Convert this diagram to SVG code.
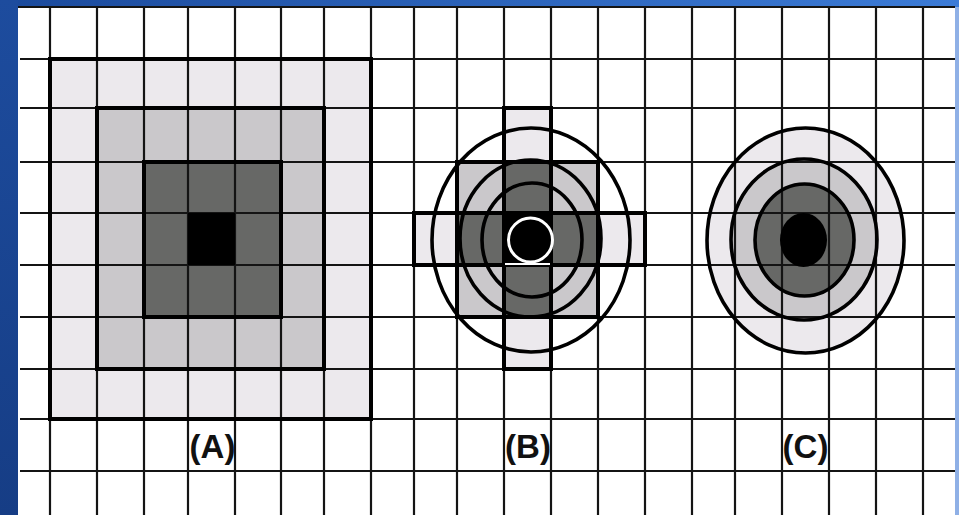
<svg xmlns="http://www.w3.org/2000/svg" width="959" height="515" viewBox="0 0 959 515">
<defs>
<linearGradient id="bg" x1="0" y1="0" x2="1" y2="0.3">
<stop offset="0" stop-color="#1b4a9c"/>
<stop offset="1" stop-color="#3f80dc"/>
</linearGradient>
<linearGradient id="left" x1="0" y1="0" x2="0" y2="1">
<stop offset="0" stop-color="#1d4c9e"/>
<stop offset="1" stop-color="#163d85"/>
</linearGradient>
<style>
.l1{fill:#ece9ed}
.l2{fill:#cac8cb}
.l3{fill:#676866}
.l4{fill:#000}
.grid line{stroke:#141414;stroke-width:2.2}
.thick{fill:none;stroke:#000;stroke-width:4}
.ring{fill:none;stroke:#000;stroke-width:3.6}
.lbl{font-family:"Liberation Sans",Arial,sans-serif;font-weight:bold;font-size:33px;fill:#111;text-anchor:middle}
</style>
</defs>
<g id="background">
<rect x="0" y="0" width="959" height="515" fill="url(#bg)"/>
<rect x="0" y="0" width="18" height="515" fill="url(#left)"/>
<rect x="18" y="7" width="937" height="508" fill="#fff"/>
<rect x="955" y="7" width="4" height="508" fill="#8fb0e6"/>
</g>
<g id="fills">
<rect class="l1" x="50" y="59" width="321" height="360"/>
<rect class="l2" x="97" y="108" width="227" height="261"/>
<rect class="l3" x="144" y="162" width="137" height="155"/>
<rect class="l4" x="188" y="213" width="47" height="52"/>
<rect class="l1" x="504" y="108" width="47" height="54"/>
<rect class="l1" x="504" y="317" width="47" height="52"/>
<rect class="l1" x="414" y="213" width="43" height="52"/>
<rect class="l1" x="598" y="213" width="47" height="52"/>
<rect class="l2" x="457" y="162" width="141" height="155"/>
<rect class="l3" x="504" y="162" width="47" height="155"/>
<rect class="l3" x="457" y="213" width="141" height="52"/>
<rect class="l4" x="504" y="213" width="47" height="52"/>
<ellipse class="l1" cx="805.5" cy="240.5" rx="98.5" ry="112.5"/>
<ellipse class="l2" cx="804" cy="239.5" rx="73" ry="80.5"/>
<ellipse class="l3" cx="804.5" cy="240" rx="49.5" ry="56"/>
</g>
<g id="grid" class="grid">
<line x1="18" y1="7" x2="955" y2="7"/>
<line x1="20" y1="59" x2="955" y2="59"/>
<line x1="20" y1="108" x2="955" y2="108"/>
<line x1="20" y1="162" x2="955" y2="162"/>
<line x1="20" y1="213" x2="955" y2="213"/>
<line x1="20" y1="265" x2="955" y2="265"/>
<line x1="20" y1="317" x2="955" y2="317"/>
<line x1="20" y1="369" x2="955" y2="369"/>
<line x1="20" y1="419" x2="955" y2="419"/>
<line x1="20" y1="471" x2="955" y2="471"/>
<line x1="50" y1="7" x2="50" y2="515"/>
<line x1="97" y1="7" x2="97" y2="515"/>
<line x1="144" y1="7" x2="144" y2="515"/>
<line x1="188" y1="7" x2="188" y2="515"/>
<line x1="235" y1="7" x2="235" y2="515"/>
<line x1="281" y1="7" x2="281" y2="515"/>
<line x1="324" y1="7" x2="324" y2="515"/>
<line x1="371" y1="7" x2="371" y2="515"/>
<line x1="414" y1="7" x2="414" y2="515"/>
<line x1="457" y1="7" x2="457" y2="515"/>
<line x1="504" y1="7" x2="504" y2="515"/>
<line x1="551" y1="7" x2="551" y2="515"/>
<line x1="598" y1="7" x2="598" y2="515"/>
<line x1="645" y1="7" x2="645" y2="515"/>
<line x1="692" y1="7" x2="692" y2="515"/>
<line x1="735" y1="7" x2="735" y2="515"/>
<line x1="782" y1="7" x2="782" y2="515"/>
<line x1="829" y1="7" x2="829" y2="515"/>
<line x1="876" y1="7" x2="876" y2="515"/>
<line x1="923" y1="7" x2="923" y2="515"/>
</g>
<g id="panel-A">
<rect class="thick" x="50" y="59" width="321" height="360"/>
<rect class="thick" x="97" y="108" width="227" height="261"/>
<rect class="thick" x="144" y="162" width="137" height="155"/>
<rect class="l4" x="188" y="213" width="47" height="52"/>
</g>
<g id="panel-B">
<rect class="thick" x="504" y="108" width="47" height="54"/>
<rect class="thick" x="504" y="317" width="47" height="52"/>
<rect class="thick" x="414" y="213" width="43" height="52"/>
<rect class="thick" x="598" y="213" width="47" height="52"/>
<rect class="thick" x="457" y="162" width="141" height="155"/>
<rect class="thick" x="504" y="162" width="47" height="155"/>
<rect class="thick" x="457" y="213" width="141" height="52"/>
<rect class="l4" x="504" y="213" width="47" height="52"/>
<ellipse class="ring" cx="531" cy="240" rx="99" ry="112"/>
<ellipse class="ring" cx="530.5" cy="238.5" rx="70.5" ry="78.5"/>
<ellipse class="ring" cx="532" cy="240" rx="50" ry="57"/>
<circle cx="530.5" cy="240" r="22" fill="none" stroke="#fff" stroke-width="3"/>
<line x1="505" y1="264" x2="550" y2="264" stroke="#fff" stroke-width="2"/>
</g>
<g id="panel-C">
<ellipse class="ring" cx="805.5" cy="240.5" rx="98.5" ry="112.5"/>
<ellipse class="ring" cx="804" cy="239.5" rx="73" ry="80.5"/>
<ellipse class="ring" cx="804.5" cy="240" rx="49.5" ry="56"/>
<ellipse class="l4" cx="803.5" cy="240" rx="23.5" ry="27"/>
</g>
<g id="labels">
<text class="lbl" x="212.5" y="458">(A)</text>
<text class="lbl" x="528" y="458">(B)</text>
<text class="lbl" x="805.5" y="458">(C)</text>
</g>
</svg>
